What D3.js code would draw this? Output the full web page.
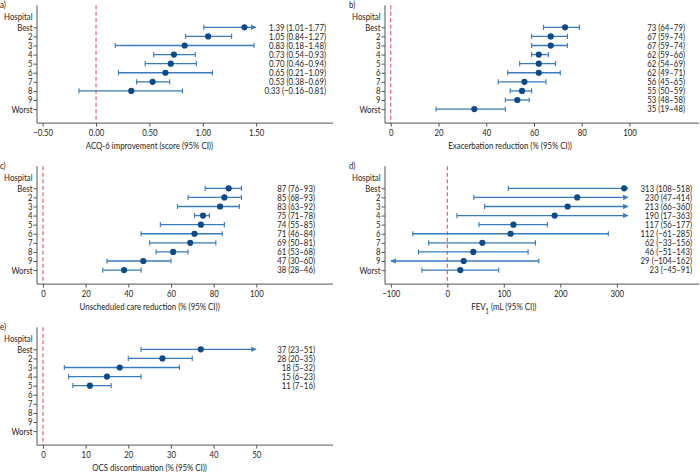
<!DOCTYPE html>
<html>
<head>
<meta charset="utf-8">
<script src="https://cdn.jsdelivr.net/npm/d3@7"></script>
<style>
  html, body { margin: 0; padding: 0; background: #fff; }
  svg { display: block; }
  text { font-family: Lato, "Noto Sans", sans-serif; fill: #262626; }
</style>
</head>
<body>
<svg id="chart" width="700" height="472"></svg>
<script>
// ---------- data ----------
const hospitals = ["Best", "2", "3", "4", "5", "6", "7", "8", "9", "Worst"];

// a) ACQ-6 improvement
const acqEst = [1.39, 1.05, 0.83, 0.73, 0.70, 0.65, 0.53, 0.33, null, null];
const acqLo  = [1.01, 0.84, 0.18, 0.54, 0.46, 0.21, 0.38, -0.16, null, null];
const acqHi  = [1.77, 1.27, 1.48, 0.93, 0.94, 1.09, 0.69, 0.81, null, null];
const acqTicks = [-0.5, 0, 0.5, 1, 1.5];

// b) Exacerbation reduction
const exaEst = [73, 67, 67, 62, 62, 62, 56, 55, 53, 35];
const exaLo  = [64, 59, 59, 59, 54, 49, 45, 50, 48, 19];
const exaHi  = [79, 74, 74, 66, 69, 71, 65, 59, 58, 48];
const exaTicks = [0, 20, 40, 60, 80, 100];

// c) Unscheduled care reduction
const uscEst = [87, 85, 83, 75, 74, 71, 69, 61, 47, 38];
const uscLo  = [76, 68, 63, 71, 55, 46, 50, 53, 30, 28];
const uscHi  = [93, 93, 92, 78, 85, 84, 81, 68, 60, 46];
const uscTicks = [0, 20, 40, 60, 80, 100];

// d) FEV1
const fevEst = [313, 230, 213, 190, 117, 112, 62, 46, 29, 23];
const fevLo  = [108, 47, 66, 17, 56, -61, -33, -51, -104, -45];
const fevHi  = [518, 414, 360, 363, 177, 285, 156, 143, 162, 91];
const fevTicks = [-100, 0, 100, 200, 300];

// e) OCS discontinuation
const ocsEst = [37, 28, 18, 15, 11, null, null, null, null, null];
const ocsLo  = [23, 20, 5, 6, 7, null, null, null, null, null];
const ocsHi  = [51, 35, 32, 23, 16, null, null, null, null, null];
const ocsTicks = [0, 10, 20, 30, 40, 50];

// ---------- drawing ----------
const svg = d3.select("#chart");
const FS = 8.9;      // label font size
const SX = 0.84;     // horizontal condense
const TFS = 9.6;     // title font size
const TSX = 0.82;
const dotColor = "#0b4a8b";
const lineColor = "#3a7bbd";
const axisColor = "#555";
const refColor = "#e0566a";

function placeText(sel, x, y, sx) {
  sel.attr("x", 0).attr("y", 0).attr("transform", `translate(${x},${y}) scale(${sx},1)`);
  return sel;
}

const panels = [
  { tag: "a)", est: acqEst, lo: acqLo, hi: acqHi, ticks: acqTicks, fmtTick: d3.format(".2f"), fmtVal: d3.format(".2f"),
    title: "ACQ-6 improvement (score (95% CI))", col: 0, row: 0, domain: [-0.553, 2.22], clip: [-Infinity, 1.5], textX: 326 },
  { tag: "b)", est: exaEst, lo: exaLo, hi: exaHi, ticks: exaTicks, fmtTick: d3.format("d"), fmtVal: d3.format("d"),
    title: "Exacerbation reduction (% (95% CI))", col: 1, row: 0, domain: [-2.4, 129.1], clip: [-Infinity, Infinity], textX: 685 },
  { tag: "c)", est: uscEst, lo: uscLo, hi: uscHi, ticks: uscTicks, fmtTick: d3.format("d"), fmtVal: d3.format("d"),
    title: "Unscheduled care reduction (% (95% CI))", col: 0, row: 1, domain: [-2.8, 135.9], clip: [-Infinity, Infinity], textX: 315 },
  { tag: "d)", est: fevEst, lo: fevLo, hi: fevHi, ticks: fevTicks, fmtTick: d3.format("d"), fmtVal: d3.format("d"),
    title: "FEV", sub: "1", titleRest: " (mL (95% CI))", col: 1, row: 1, domain: [-110.3, 445.5], clip: [-100, 320], textX: 692 },
  { tag: "e)", est: ocsEst, lo: ocsLo, hi: ocsHi, ticks: ocsTicks, fmtTick: d3.format("d"), fmtVal: d3.format("d"),
    title: "OCS discontinuation (% (95% CI))", col: 0, row: 2, domain: [-1.4, 68], clip: [-Infinity, 50], textX: 315 }
];

const colLeft = [37, 385];
const colRight = [333, 699];
const bestY = [27.3, 188.3, 349.3];

panels.forEach(p => {
  const x0 = colLeft[p.col], x1 = colRight[p.col];
  const yBest = bestY[p.row];
  const yWorst = yBest + 81.8;
  const axisTop = yBest - 22;
  const axisBottom = yBest + 95.8;

  const x = d3.scaleLinear().domain(p.domain).range([x0, x1]);
  const y = d3.scalePoint().domain(hospitals).range([yBest, yWorst]);

  const g = svg.append("g");

  // panel tag
  placeText(g.append("text"), p.col === 0 ? 0 : 349, axisTop - 1, SX)
    .attr("dy", "0.35em").attr("font-size", FS + 0.4).text(p.tag);

  // "Hospital" header
  placeText(g.append("text"), x0 - 4.5, yBest - 10.6, SX)
    .attr("dy", "0.35em").attr("text-anchor", "end").attr("font-size", FS + 0.4).text("Hospital");

  // y axis
  const yAxis = d3.axisLeft(y).tickSize(3.5).tickPadding(1);
  const ga = g.append("g").attr("transform", `translate(${x0},0)`).call(yAxis);
  ga.select(".domain").remove();
  ga.selectAll(".tick line").attr("stroke", axisColor);
  ga.selectAll(".tick text").attr("font-size", FS + 0.4).style("font-family", "Lato, sans-serif").attr("fill", "#262626")
    .attr("x", null).attr("transform", `translate(-4.5,0) scale(${SX},1)`);
  g.append("line").attr("x1", x0).attr("x2", x0).attr("y1", axisTop).attr("y2", axisBottom)
    .attr("stroke", axisColor).attr("stroke-width", 1);

  // x axis
  const xAxis = d3.axisBottom(x).tickValues(p.ticks).tickFormat(p.fmtTick).tickSize(3.5).tickPadding(2.5);
  const gx = g.append("g").attr("transform", `translate(0,${axisBottom})`).call(xAxis);
  gx.select(".domain").remove();
  gx.selectAll(".tick line").attr("stroke", axisColor);
  gx.selectAll(".tick text").attr("font-size", FS + 0.4).style("font-family", "Lato, sans-serif").attr("fill", "#262626")
    .attr("transform", `scale(${SX},1)`);
  g.append("line").attr("x1", x0).attr("x2", x1).attr("y1", axisBottom).attr("y2", axisBottom)
    .attr("stroke", axisColor).attr("stroke-width", 1);

  // axis title (centered on tick range)
  const tc = (x(p.ticks[0]) + x(p.ticks[p.ticks.length - 1])) / 2;
  const tt = placeText(g.append("text"), tc, axisBottom + 22.5, TSX).attr("dy", "0.35em")
    .attr("text-anchor", "middle").attr("font-size", TFS).text(p.title);
  if (p.sub) {
    tt.append("tspan").attr("baseline-shift", "sub").attr("font-size", TFS - 2.5).text(p.sub);
    tt.append("tspan").text(p.titleRest);
  }

  // reference line at 0
  g.append("line").attr("x1", x(0)).attr("x2", x(0)).attr("y1", axisTop).attr("y2", axisBottom)
    .attr("stroke", refColor).attr("stroke-width", 1.1).attr("stroke-dasharray", "4,2.5");

  // rows
  hospitals.forEach((h, i) => {
    const est = p.est[i];
    if (est == null) return;
    const lo = p.lo[i], hi = p.hi[i];
    const cy = y(h);
    const loC = Math.max(lo, p.clip[0]);
    const hiC = Math.min(hi, p.clip[1]);
    const xl = x(loC), xh = x(hiC);
    g.append("line").attr("x1", xl).attr("x2", xh).attr("y1", cy).attr("y2", cy)
      .attr("stroke", lineColor).attr("stroke-width", 1.3);
    if (lo < p.clip[0]) {
      g.append("path").attr("d", `M${xl},${cy}L${xl + 5},${cy - 2.8}L${xl + 5},${cy + 2.8}Z`).attr("fill", lineColor);
    } else {
      g.append("line").attr("x1", xl).attr("x2", xl).attr("y1", cy - 2.6).attr("y2", cy + 2.6)
        .attr("stroke", lineColor).attr("stroke-width", 1.1);
    }
    if (hi > p.clip[1]) {
      g.append("path").attr("d", `M${xh},${cy}L${xh - 5},${cy - 2.8}L${xh - 5},${cy + 2.8}Z`).attr("fill", lineColor);
    } else {
      g.append("line").attr("x1", xh).attr("x2", xh).attr("y1", cy - 2.6).attr("y2", cy + 2.6)
        .attr("stroke", lineColor).attr("stroke-width", 1.1);
    }
    g.append("circle").attr("cx", x(est)).attr("cy", cy).attr("r", 3.1).attr("fill", dotColor);

    placeText(g.append("text"), p.textX, cy, SX).attr("dy", "0.35em").attr("text-anchor", "end")
      .attr("font-size", FS + 0.4)
      .text(`${p.fmtVal(est)} (${p.fmtVal(lo)}\u2013${p.fmtVal(hi)})`);
  });
});
</script>
</body>
</html>
